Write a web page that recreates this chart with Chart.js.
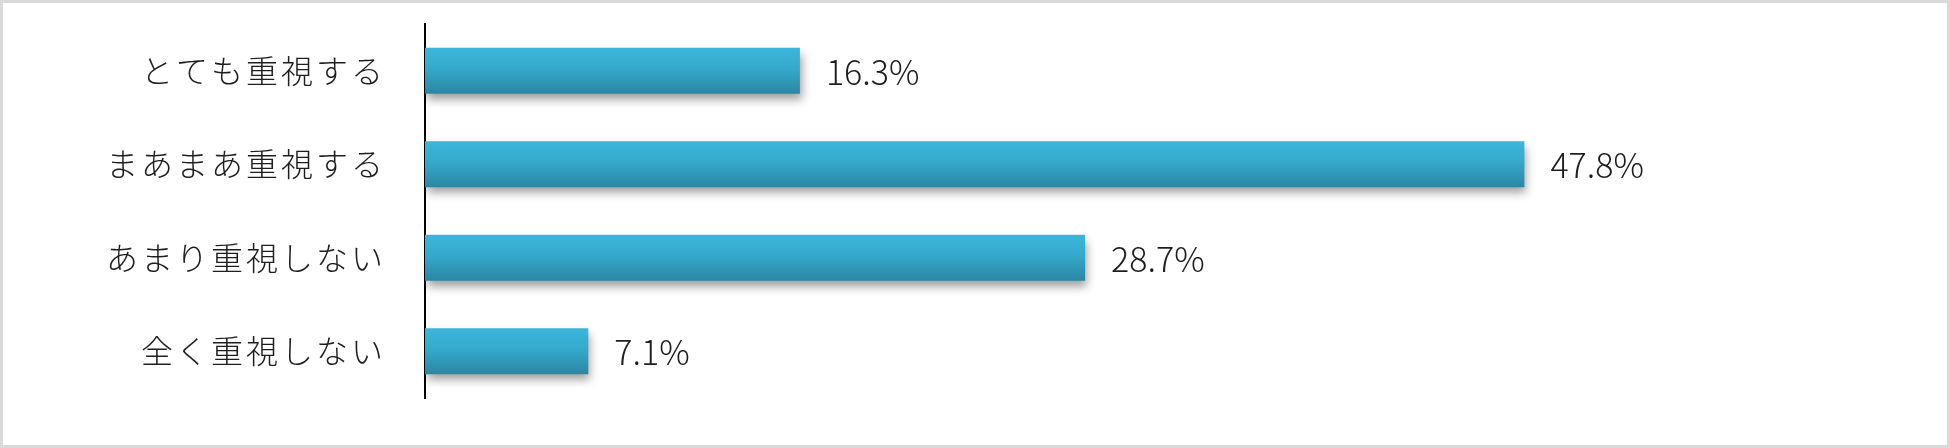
<!DOCTYPE html>
<html lang="ja">
<head>
<meta charset="utf-8">
<script src="https://cdn.jsdelivr.net/npm/chart.js@4/dist/chart.umd.min.js"></script>
<style>
  html, body { margin: 0; padding: 0; background: #fff; }
  #frame {
    width: 1950px;
    height: 448px;
    box-sizing: border-box;
    border: 3px solid #d9d9d9;
    background: #fff;
  }
  #frame canvas { display: block; }
</style>
</head>
<body>
<div id="frame">
  <canvas id="importanceChart" width="1944" height="442"></canvas>
</div>
<script>
// data
const categories = ["とても重視する", "まあまあ重視する", "あまり重視しない", "全く重視しない"];
const shares = [16.3, 47.8, 28.7, 7.1];
const axisMin = 0;
const axisMax = 60;

const FONT = "'Noto Sans CJK JP', 'Noto Sans', sans-serif";
const BAR_PCT = 0.49;

// gradient per bar, built from the y scale
function barGradient(context) {
  const chart = context.chart;
  const yScale = chart.scales.y;
  if (!yScale || !chart.chartArea) return "#33a6c8";
  const center = yScale.getPixelForValue(context.dataIndex);
  const half = (yScale.height / categories.length) * BAR_PCT / 2;
  const g = chart.ctx.createLinearGradient(0, center - half, 0, center + half);
  g.addColorStop(0, "#3bb6db");
  g.addColorStop(0.45, "#35a9cc");
  g.addColorStop(1, "#2b87a3");
  return g;
}

// drop shadow under bars
const barShadow = {
  id: "barShadow",
  beforeDatasetDraw(chart) {
    const ctx = chart.ctx;
    ctx.save();
    ctx.shadowColor = "rgba(0, 0, 0, 0.38)";
    ctx.shadowBlur = 9;
    ctx.shadowOffsetX = 2;
    ctx.shadowOffsetY = 6;
  },
  afterDatasetDraw(chart) {
    chart.ctx.restore();
  }
};

// percentage labels at the bar ends
const valueLabels = {
  id: "valueLabels",
  afterDatasetsDraw(chart) {
    const ctx = chart.ctx;
    const meta = chart.getDatasetMeta(0);
    ctx.save();
    ctx.letterSpacing = "0px";
    ctx.font = "300 34px " + FONT;
    ctx.fillStyle = "#1e1e1e";
    ctx.textAlign = "left";
    ctx.textBaseline = "middle";
    meta.data.forEach((bar, i) => {
      ctx.fillText(shares[i].toFixed(1) + "%", bar.x + 26, bar.y + 1);
    });
    ctx.restore();
  }
};

// wider spacing for the category labels
const tickSpacing = {
  id: "tickSpacing",
  beforeDraw(chart) { chart.ctx.letterSpacing = "3px"; },
  afterDraw(chart) { chart.ctx.letterSpacing = "0px"; }
};

new Chart(document.getElementById("importanceChart"), {
  type: "bar",
  data: {
    labels: categories,
    datasets: [{
      data: shares,
      backgroundColor: barGradient,
      borderWidth: 0,
      barPercentage: BAR_PCT,
      categoryPercentage: 1
    }]
  },
  options: {
    indexAxis: "y",
    responsive: false,
    animation: false,
    layout: {
      padding: { top: 21, bottom: 47, left: 0, right: 142 }
    },
    plugins: {
      legend: { display: false },
      tooltip: { enabled: false }
    },
    scales: {
      x: {
        display: false,
        min: axisMin,
        max: axisMax
      },
      y: {
        grid: { display: false, drawTicks: false },
        border: { display: true, color: "#000", width: 2 },
        afterFit(scale) {
          scale.width = 422;
          scale.paddingTop = 0;
          scale.paddingBottom = 0;
        },
        ticks: {
          padding: 39,
          color: "#1e1e1e",
          font: { family: FONT, size: 32, weight: "300" }
        }
      }
    }
  },
  plugins: [barShadow, valueLabels, tickSpacing]
});
</script>
</body>
</html>
